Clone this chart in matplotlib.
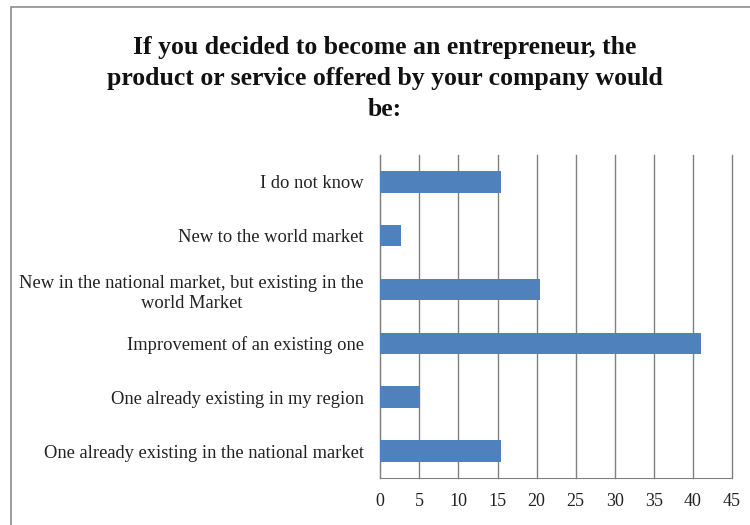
import matplotlib.pyplot as plt
from matplotlib.patches import Rectangle

categories = [
    "I do not know",
    "New to the world market",
    "New in the national market, but existing in the\nworld Market",
    "Improvement of an existing one",
    "One already existing in my region",
    "One already existing in the national market",
]
percent = [15.4, 2.6, 20.5, 41.0, 5.1, 15.4]
xticks = [0, 5, 10, 15, 20, 25, 30, 35, 40, 45]

title = ("If you decided to become an entrepreneur, the\n"
         "product or service offered by your company would\n"
         "be:")

plt.rcParams["font.family"] = ["Liberation Serif", "DejaVu Serif"]

fig = plt.figure(figsize=(7.5, 5.25), dpi=100)
ax = fig.add_axes([0.507, 0.0895, 0.469, 0.6155])

ypos = list(range(len(categories)))
ax.barh(ypos, percent, height=0.4, color="#4F81BD", zorder=3)

ax.set_xlim(0, 45)
ax.set_ylim(len(categories) - 0.5, -0.5)
ax.set_xticks(xticks)
ax.set_xticklabels([str(t) for t in xticks], fontsize=13, color="#222222")
ax.set_yticks(ypos)
ax.set_yticklabels(categories, fontsize=13.3, color="#222222",
                   linespacing=1.3, multialignment="center")
ax.tick_params(axis="y", length=0, pad=12)
ax.tick_params(axis="x", length=0, pad=11)

ax.xaxis.grid(True, color="#808080", linewidth=1.0, zorder=0)
for line in ax.get_xgridlines():
    line.set_clip_on(False)
for side in ["top", "right"]:
    ax.spines[side].set_visible(False)
ax.spines["left"].set_color("#808080")
ax.spines["bottom"].set_color("#808080")

fig.text(0.513, 0.932, title, ha="center", va="top", fontsize=18.5,
         fontweight="bold", linespacing=1.45, color="#111111")

# chart area frame, running off the right and bottom edges
frame = Rectangle((0.014, -0.05), 1.1, 1.037, transform=fig.transFigure,
                  fill=False, edgecolor="#8c8c8c", linewidth=1.2,
                  clip_on=False)
fig.patches.append(frame)

fig.savefig("out.png", dpi=100)
